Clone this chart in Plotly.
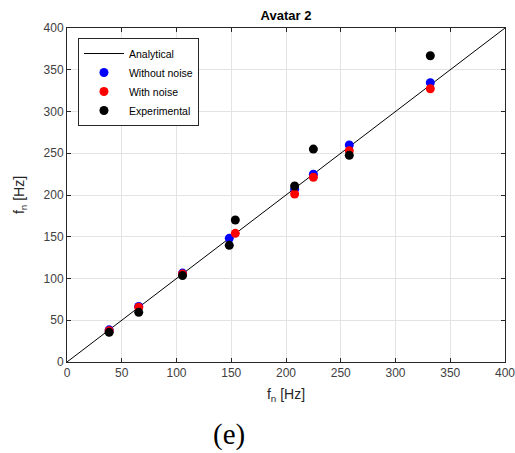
import plotly.graph_objects as go

analytical_x = [0, 400]
analytical_y = [0, 400]

x_modes = [38.5, 65.5, 105.5, 148.2, 207.9, 225.0, 257.8, 331.8]
without_noise = [38.5, 66.5, 106.5, 148.1, 207.0, 224.8, 259.9, 334.5]

x_noise = [38.5, 65.5, 105.5, 153.7, 207.9, 225.0, 257.8, 331.8]
with_noise = [37.5, 65.5, 105.5, 154.1, 201.2, 221.2, 253.0, 327.3]

x_exp = [38.5, 65.5, 105.5, 148.2, 153.7, 207.9, 225.0, 257.8, 331.8]
experimental = [35.5, 59.5, 103.5, 139.7, 170.0, 210.8, 255.0, 247.5, 366.8]

xticks = [0, 50, 100, 150, 200, 250, 300, 350, 400]
yticks = [0, 50, 100, 150, 200, 250, 300, 350, 400]

fig = go.Figure()
fig.add_trace(go.Scatter(x=analytical_x, y=analytical_y, mode="lines",
                         line=dict(color="black", width=1), name="Analytical"))
fig.add_trace(go.Scatter(x=x_modes, y=without_noise, mode="markers",
                         marker=dict(color="#0000ff", size=9), name="Without noise"))
fig.add_trace(go.Scatter(x=x_noise, y=with_noise, mode="markers",
                         marker=dict(color="#ff0000", size=9), name="With noise"))
fig.add_trace(go.Scatter(x=x_exp, y=experimental, mode="markers",
                         marker=dict(color="#000000", size=9), name="Experimental"))

FONT = "Liberation Sans, Arial"
axis_common = dict(showline=True, linecolor="#262626", linewidth=1, mirror="ticks",
                   ticks="inside", ticklen=4, tickcolor="#262626", automargin=False,
                   ticklabeloverflow="allow",
                   showgrid=True, gridcolor="#e3e3e3", gridwidth=1, zeroline=False,
                   tickfont=dict(family=FONT, size=12, color="#404040"))

fig.update_xaxes(range=[0, 400], tickvals=xticks, ticktext=[str(v) for v in xticks],
                 title=dict(text="f<sub>n</sub> [Hz]", standoff=9,
                            font=dict(family=FONT, size=14, color="#262626")),
                 **axis_common)
fig.update_yaxes(range=[0, 400], tickvals=yticks, ticktext=[str(v) for v in yticks],
                 title=dict(text="f<sub>n</sub> [Hz]", standoff=15,
                            font=dict(family=FONT, size=14, color="#262626")),
                 **axis_common)

fig.update_layout(
    width=515, height=453,
    margin=dict(l=67, r=10, t=28, b=91),
    paper_bgcolor="white", plot_bgcolor="white",
    title=dict(text="<b>Avatar 2</b>", x=(67 + 438 / 2) / 515, xanchor="center",
               y=1 - 15 / 453, yanchor="middle",
               font=dict(family=FONT, size=13, color="black")),
    showlegend=True,
    legend=dict(x=0.025, y=0.97, xanchor="left", yanchor="top",
                bgcolor="white", bordercolor="#262626", borderwidth=1,
                font=dict(family=FONT, size=10.5, color="black"),
                tracegroupgap=0, itemwidth=40),
    annotations=[dict(text="(e)", xref="paper", yref="paper",
                      x=(229 - 67) / 438, y=-(435 - 362) / 334,
                      xanchor="center", yanchor="middle", showarrow=False,
                      font=dict(family="Liberation Serif", size=29, color="black"))],
)

fig.write_html("out.html")
